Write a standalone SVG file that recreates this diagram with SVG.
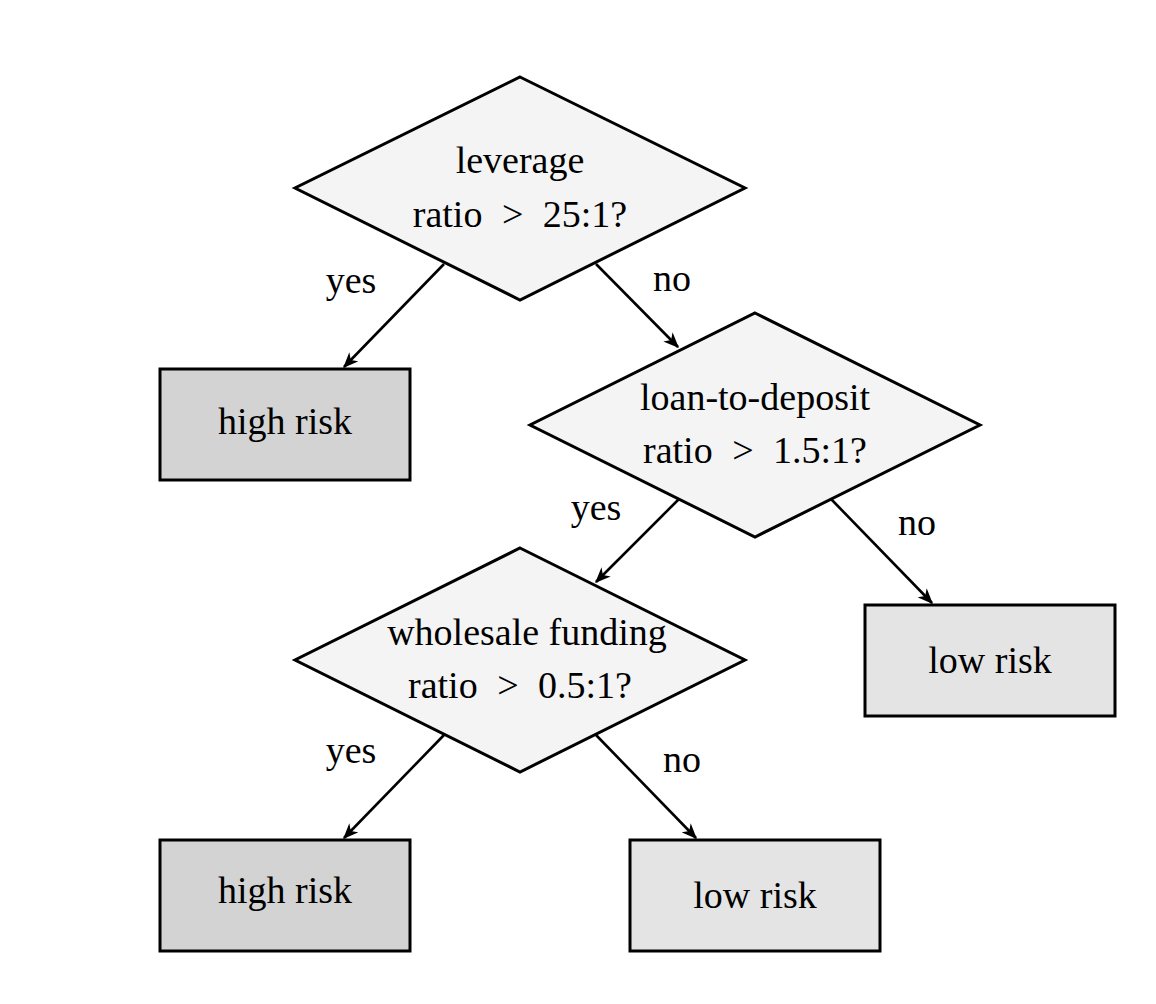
<svg xmlns="http://www.w3.org/2000/svg" width="1156" height="1004" viewBox="0 0 1156 1004">
<style>
.d{fill:#f4f4f4;stroke:#000;stroke-width:3;stroke-linejoin:miter}
.h{fill:#d3d3d3;stroke:#000;stroke-width:3}
.l{fill:#e4e4e4;stroke:#000;stroke-width:3}
text{font-size:38px;fill:#000;text-anchor:middle}
.w{word-spacing:10px}
.e{stroke:#000;stroke-width:2.6;fill:none;marker-end:url(#arr)}
</style>
<defs>
<marker id="arr" viewBox="0 0 12 10" refX="11" refY="5" markerWidth="16" markerHeight="13" orient="auto" markerUnits="userSpaceOnUse">
<path d="M0,0 L12,5 L0,10 L3.5,5 Z" fill="#000"/>
</marker>
</defs>
<rect width="1156" height="1004" fill="#fff"/>
<g font-family="'Liberation Serif', 'Times New Roman', 'DejaVu Serif', serif">
<g id="edges">
<line class="e" x1="444" y1="264" x2="344" y2="367"/>
<line class="e" x1="596" y1="264" x2="678" y2="347"/>
<line class="e" x1="679" y1="499" x2="596" y2="582"/>
<line class="e" x1="831" y1="499" x2="932" y2="603"/>
<line class="e" x1="444" y1="735" x2="344" y2="838"/>
<line class="e" x1="596" y1="735" x2="696" y2="838"/>
<text x="351" y="293">yes</text>
<text x="672" y="291">no</text>
<text x="596" y="520">yes</text>
<text x="917" y="535">no</text>
<text x="351" y="763">yes</text>
<text x="682" y="772">no</text>
</g>
<g id="q1">
<polygon class="d" points="520,77 745,188 520,300 295,188"/>
<text x="520" y="173">leverage</text>
<text class="w" x="520" y="227">ratio &gt; 25:1?</text>
</g>
<g id="high1">
<rect class="h" x="160" y="369" width="250" height="111"/>
<text x="285" y="434">high risk</text>
</g>
<g id="q2">
<polygon class="d" points="755,313 980,425 755,537 530,425"/>
<text x="755" y="410">loan-to-deposit</text>
<text class="w" x="755" y="463">ratio &gt; 1.5:1?</text>
</g>
<g id="low1">
<rect class="l" x="865" y="605" width="250" height="111"/>
<text x="990" y="673">low risk</text>
</g>
<g id="q3">
<polygon class="d" points="520,548 745,660 520,772 295,660"/>
<text x="527" y="645">wholesale funding</text>
<text class="w" x="520" y="698">ratio &gt; 0.5:1?</text>
</g>
<g id="high2">
<rect class="h" x="160" y="840" width="250" height="111"/>
<text x="285" y="903">high risk</text>
</g>
<g id="low2">
<rect class="l" x="630" y="840" width="250" height="111"/>
<text x="755" y="908">low risk</text>
</g>
</g>
</svg>
